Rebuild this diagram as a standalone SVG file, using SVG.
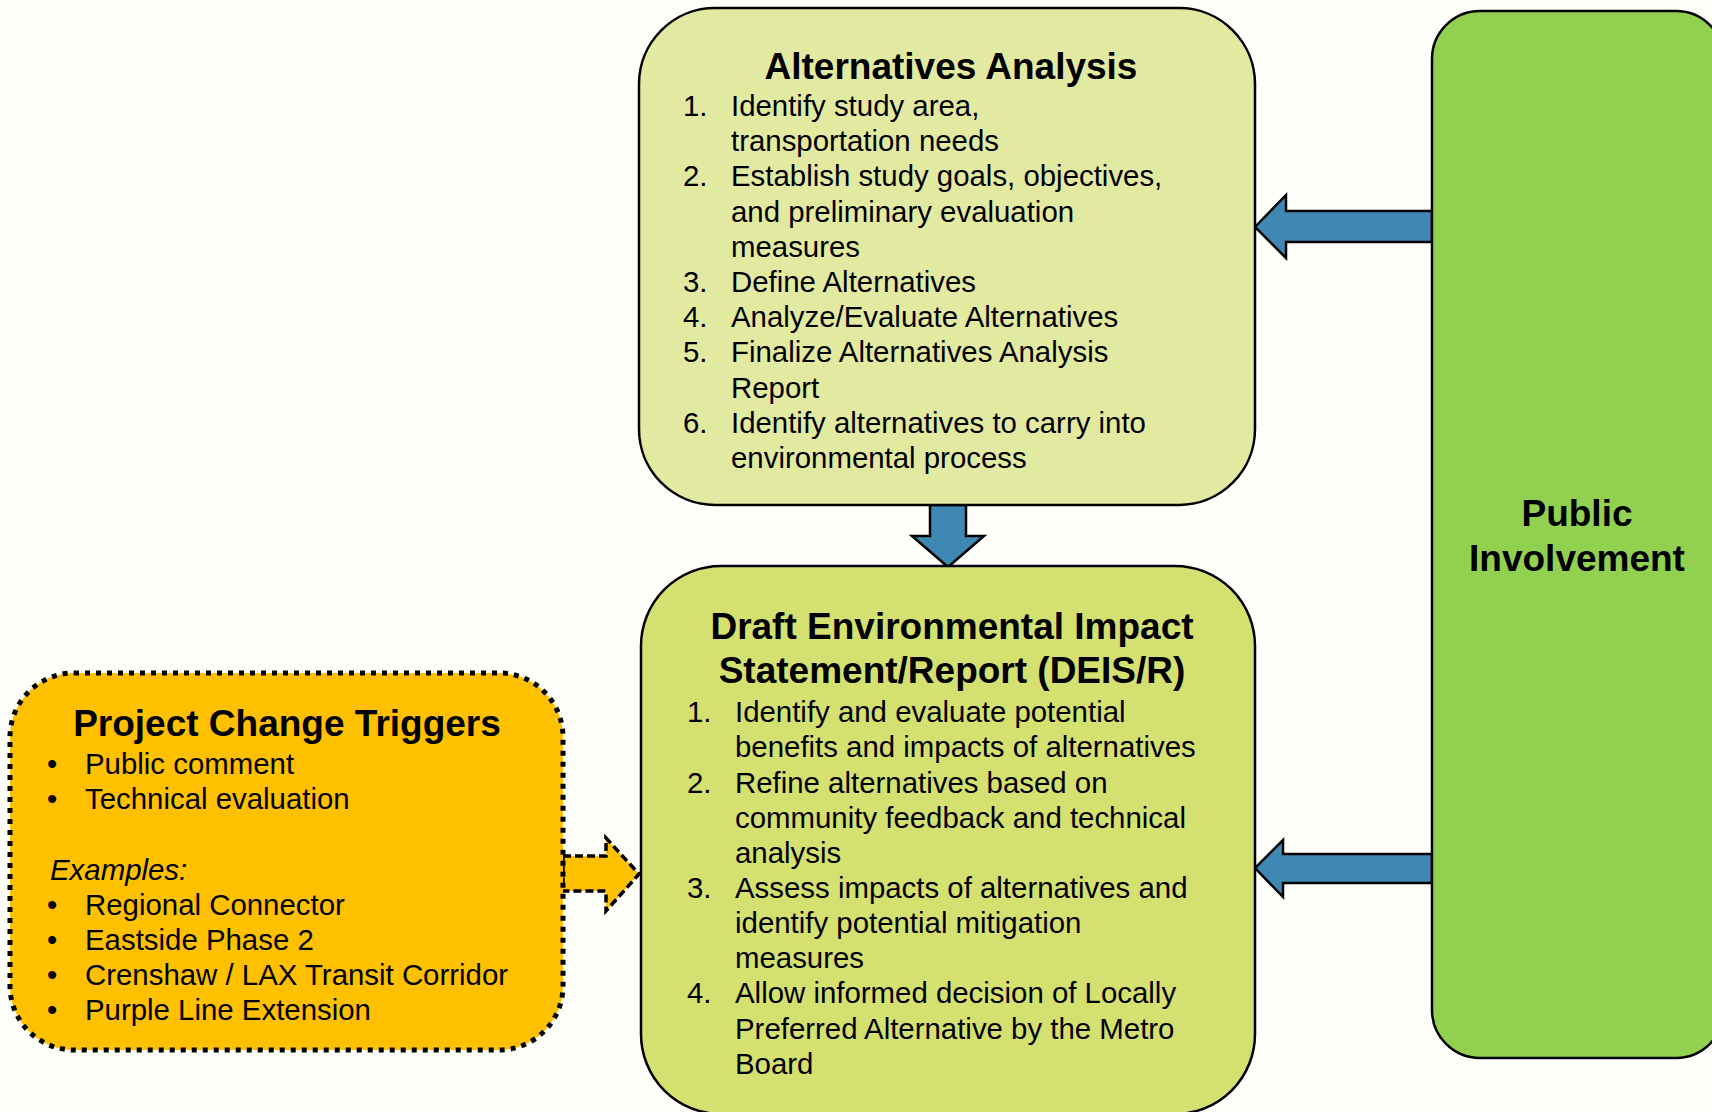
<svg xmlns="http://www.w3.org/2000/svg" width="1712" height="1112" viewBox="0 0 1712 1112">
  <style>
    .box { stroke: #000; stroke-width: 2.5; }
    .title { font-family: "Liberation Sans", Arial, sans-serif; font-weight: bold; font-size: 37px; fill: #000; text-anchor: middle; }
    .body { font-family: "Liberation Sans", Arial, sans-serif; font-size: 29.4px; fill: #000; }
    .num { font-family: "Liberation Sans", Arial, sans-serif; font-size: 29.4px; fill: #000; }
    .flow { fill: #4088B4; stroke: #000; stroke-width: 2.5; stroke-linejoin: miter; }
    .trigger { fill: #FFC000; stroke: #000; stroke-width: 3.5; stroke-dasharray: 8 4; }
  </style>

  <rect width="1712" height="1112" fill="#FEFEFA"/>

  <!-- connectors -->
  <g id="connectors">
    <polygon class="flow" points="930,505 966,505 966,536 984,536 948,567 912,536 930,536"/>
    <polygon class="flow" points="1432,211 1286,211 1286,195 1255,227 1286,258 1286,242 1432,242"/>
    <polygon class="flow" points="1432,854 1283,854 1283,840 1255,868 1283,897 1283,883 1432,883"/>
    <polygon class="trigger" points="563,856 606,856 606,838 639,874 606,911 606,891 563,891"/>
  </g>

  <!-- Alternatives Analysis -->
  <g id="alternatives-analysis">
    <rect class="box" x="639" y="8" width="616" height="497" rx="76" ry="76" fill="#E2EAA1"/>
    <text class="title" x="951" y="79">Alternatives Analysis</text>
    <g class="num">
      <text x="683" y="116">1.</text>
      <text x="683" y="186">2.</text>
      <text x="683" y="292">3.</text>
      <text x="683" y="327">4.</text>
      <text x="683" y="362">5.</text>
      <text x="683" y="433">6.</text>
    </g>
    <text class="body">
      <tspan x="731" y="116">Identify study area,</tspan>
      <tspan x="731" y="151">transportation needs</tspan>
      <tspan x="731" y="186">Establish study goals, objectives,</tspan>
      <tspan x="731" y="222">and preliminary evaluation</tspan>
      <tspan x="731" y="257">measures</tspan>
      <tspan x="731" y="292">Define Alternatives</tspan>
      <tspan x="731" y="327">Analyze/Evaluate Alternatives</tspan>
      <tspan x="731" y="362">Finalize Alternatives Analysis</tspan>
      <tspan x="731" y="398">Report</tspan>
      <tspan x="731" y="433">Identify alternatives to carry into</tspan>
      <tspan x="731" y="468">environmental process</tspan>
    </text>
  </g>

  <!-- Draft Environmental Impact Statement/Report -->
  <g id="deis-r">
    <rect class="box" x="641" y="566" width="614" height="548" rx="80" ry="80" fill="#D4E170"/>
    <text class="title" x="952" y="639">Draft Environmental Impact</text>
    <text class="title" x="952" y="683">Statement/Report (DEIS/R)</text>
    <g class="num">
      <text x="687" y="722">1.</text>
      <text x="687" y="793">2.</text>
      <text x="687" y="898">3.</text>
      <text x="687" y="1003">4.</text>
    </g>
    <text class="body">
      <tspan x="735" y="722">Identify and evaluate potential</tspan>
      <tspan x="735" y="757">benefits and impacts of alternatives</tspan>
      <tspan x="735" y="793">Refine alternatives based on</tspan>
      <tspan x="735" y="828">community feedback and technical</tspan>
      <tspan x="735" y="863">analysis</tspan>
      <tspan x="735" y="898">Assess impacts of alternatives and</tspan>
      <tspan x="735" y="933">identify potential mitigation</tspan>
      <tspan x="735" y="968">measures</tspan>
      <tspan x="735" y="1003">Allow informed decision of Locally</tspan>
      <tspan x="735" y="1039">Preferred Alternative by the Metro</tspan>
      <tspan x="735" y="1074">Board</tspan>
    </text>
  </g>

  <!-- Public Involvement -->
  <g id="public-involvement">
    <rect class="box" x="1432" y="11" width="292" height="1047" rx="48" ry="48" fill="#92D050"/>
    <text class="title" x="1577" y="526">Public</text>
    <text class="title" x="1577" y="571">Involvement</text>
  </g>

  <!-- Project Change Triggers -->
  <g id="project-change-triggers">
    <rect x="10" y="673" width="553" height="377" rx="64" ry="64" fill="#FFC000" stroke="#000" stroke-width="5" stroke-dasharray="5 6"/>
    <text class="title" x="287" y="736">Project Change Triggers</text>
    <g class="num">
      <text x="47" y="774">•</text>
      <text x="47" y="809">•</text>
      <text x="47" y="915">•</text>
      <text x="47" y="950">•</text>
      <text x="47" y="985">•</text>
      <text x="47" y="1020">•</text>
    </g>
    <text class="body">
      <tspan x="85" y="774">Public comment</tspan>
      <tspan x="85" y="809">Technical evaluation</tspan>
      <tspan x="50" y="880" font-style="italic">Examples:</tspan>
      <tspan x="85" y="915">Regional Connector</tspan>
      <tspan x="85" y="950">Eastside Phase 2</tspan>
      <tspan x="85" y="985">Crenshaw / LAX Transit Corridor</tspan>
      <tspan x="85" y="1020">Purple Line Extension</tspan>
    </text>
  </g>
</svg>
